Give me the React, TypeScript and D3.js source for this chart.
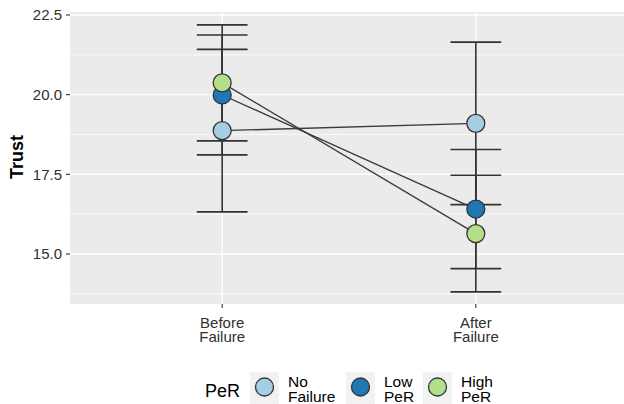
import React from "react";
import * as d3 from "d3";

const phases = ["Before Failure", "After Failure"];
const phaseLabels = [["Before", "Failure"], ["After", "Failure"]];
const groups = ["No Failure", "Low PeR", "High PeR"];
const groupLabels = [["No", "Failure"], ["Low", "PeR"], ["High", "PeR"]];
const groupColors = ["#a6cee3", "#1f78b4", "#b2df8a"];

// means and half-widths of the error bars, per phase
const noFailureMean = [18.87, 19.1];
const noFailureErr = [2.55, 2.55];
const lowPeRMean = [19.99, 16.41];
const lowPeRErr = [1.88, 1.87];
const highPeRMean = [20.37, 15.64];
const highPeRErr = [1.82, 1.83];

const yTicks = [15, 17.5, 20, 22.5];
const yMinor = [13.75, 16.25, 18.75, 21.25];

const means = [noFailureMean, lowPeRMean, highPeRMean];
const errs = [noFailureErr, lowPeRErr, highPeRErr];

const W = 624, H = 404;
const panel = { left: 70, right: 628, top: 12, bottom: 304 };

export default function App() {
  const x = d3.scalePoint<string>().domain(phases).range([panel.left, panel.right]).padding(0.6);
  const y = d3.scaleLinear().domain([13.43, 22.594]).range([panel.bottom, panel.top]);
  const capHalf = (x.step() * 0.2) / 2;
  const line = d3.line<number>().x((_, i) => x(phases[i])!).y(d => y(d));
  const font = "'Liberation Sans', Arial, sans-serif";

  const keyX = [250, 346, 423];

  return (
    <svg width={W} height={H} style={{ position: "absolute", left: 0, top: 0, background: "#fff" }} fontFamily={font}>
      <rect x={panel.left} y={panel.top} width={panel.right - panel.left} height={panel.bottom - panel.top} fill="#ebebeb" />
      {yMinor.map(v => (
        <line key={"mn" + v} x1={panel.left} x2={panel.right} y1={y(v)} y2={y(v)} stroke="#fff" strokeWidth={0.7} />
      ))}
      {yTicks.map(v => (
        <line key={"mj" + v} x1={panel.left} x2={panel.right} y1={y(v)} y2={y(v)} stroke="#fff" strokeWidth={1.4} />
      ))}
      {phases.map(p => (
        <line key={"vx" + p} x1={x(p)} x2={x(p)} y1={panel.top} y2={panel.bottom} stroke="#fff" strokeWidth={1.4} />
      ))}

      {/* error bars */}
      {groups.map((g, gi) =>
        phases.map((p, pi) => {
          const cx = x(p)!;
          const lo = y(means[gi][pi] - errs[gi][pi]);
          const hi = y(means[gi][pi] + errs[gi][pi]);
          return (
            <g key={g + p} stroke="#333" strokeWidth={1.6} fill="none">
              <line x1={cx} x2={cx} y1={lo} y2={hi} />
              <line x1={cx - capHalf} x2={cx + capHalf} y1={lo} y2={lo} />
              <line x1={cx - capHalf} x2={cx + capHalf} y1={hi} y2={hi} />
            </g>
          );
        })
      )}

      {/* connecting lines */}
      {groups.map((g, gi) => (
        <path key={"l" + g} d={line(means[gi]) || ""} fill="none" stroke="#3a3a3a" strokeWidth={1.3} />
      ))}

      {/* points */}
      {groups.map((g, gi) =>
        phases.map((p, pi) => (
          <circle key={"pt" + g + p} cx={x(p)} cy={y(means[gi][pi])} r={9} fill={groupColors[gi]} stroke="#333" strokeWidth={1.3} />
        ))
      )}

      {/* y axis */}
      {yTicks.map(v => (
        <g key={"yt" + v}>
          <line x1={panel.left - 4} x2={panel.left} y1={y(v)} y2={y(v)} stroke="#333" strokeWidth={1.1} />
          <text x={panel.left - 8} y={y(v)} dy="0.35em" textAnchor="end" fontSize={15} fill="#303030">
            {v.toFixed(1)}
          </text>
        </g>
      ))}
      <text transform={`translate(23,157) rotate(-90)`} textAnchor="middle" fontSize={18} fontWeight="bold" fill="#000">
        Trust
      </text>

      {/* x axis */}
      {phases.map((p, pi) => (
        <g key={"xt" + p}>
          <line x1={x(p)} x2={x(p)} y1={panel.bottom} y2={panel.bottom + 4} stroke="#333" strokeWidth={1.1} />
          <text x={x(p)} y={328} textAnchor="middle" fontSize={15} fill="#303030">
            <tspan x={x(p)}>{phaseLabels[pi][0]}</tspan>
            <tspan x={x(p)} dy={14}>{phaseLabels[pi][1]}</tspan>
          </text>
        </g>
      ))}

      {/* legend */}
      <text x={205} y={397} fontSize={18} fill="#000">PeR</text>
      {groups.map((g, gi) => (
        <g key={"lg" + g}>
          <rect x={keyX[gi]} y={372} width={29} height={34} fill="#f2f2f2" />
          <circle cx={keyX[gi] + 14.5} cy={387} r={9} fill={groupColors[gi]} stroke="#333" strokeWidth={1.3} />
          <text x={keyX[gi] + 38} y={387} fontSize={15.5} fill="#000">
            <tspan x={keyX[gi] + 38}>{groupLabels[gi][0]}</tspan>
            <tspan x={keyX[gi] + 38} dy={15}>{groupLabels[gi][1]}</tspan>
          </text>
        </g>
      ))}
    </svg>
  );
}
